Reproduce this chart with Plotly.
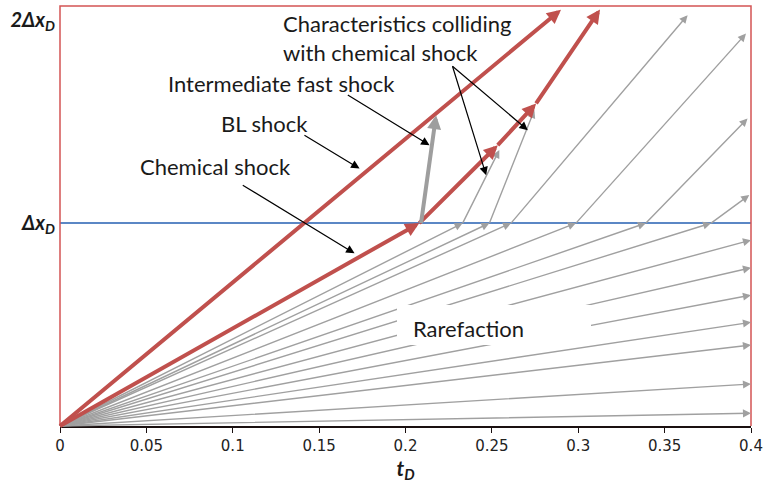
import plotly.graph_objects as go

# Rarefaction fan: rays leaving the origin
fan_to_dx_t = [0.2331, 0.2486, 0.2611, 0.2987, 0.3392, 0.3769]   # rays reaching x = Δx_D
fan_to_edge_y = [0.916, 0.780, 0.645, 0.511, 0.399, 0.207, 0.063]  # rays reaching t_D = 0.4
t_end = 0.4

# Characteristics continuing beyond x = Δx_D
cont_end_t = [0.2543, 0.2746, 0.3633, 0.3971, 0.3980, 0.3990]
cont_end_y = [1.360, 1.557, 2.025, 1.934, 1.516, 1.138]

# Chemical shock trajectory (piecewise)
chem_t = [0.0, 0.208, 0.2534, 0.2756, 0.3126]
chem_y = [0.0, 1.0, 1.384, 1.590, 2.053]

# Upper (fast) shock
fast_t = [0.0, 0.290]
fast_y = [0.0, 2.052]

# BL shock from the Δx_D crossing
bl_t = [0.209, 0.2177]
bl_y = [1.0, 1.532]

x_ticks = [0, 0.05, 0.1, 0.15, 0.2, 0.25, 0.3, 0.35, 0.4]
x_ticktext = ["0", "0.05", "0.1", "0.15", "0.2", "0.25", "0.3", "0.35", "0.4"]
y_ticks = [1, 2]
y_ticktext = ["<b><i>Δx<sub>D</sub></i></b>", "<b><i>2Δx<sub>D</sub></i></b>"]

RED = "#c0504d"
GRAY = "#a0a0a0"
BLUE = "#5b87c5"
FRAME = "#d45454"
TXT = "#1a1a1a"
LABEL_FONT = dict(family="Lato", size=22, color=TXT)


def arrow(t0, y0, t1, y1, color, width, size):
    return dict(x=t1, y=y1, ax=t0, ay=y0, xref="x", yref="y", axref="x", ayref="y",
                text="", showarrow=True, arrowhead=2, arrowsize=size, arrowwidth=width,
                arrowcolor=color, standoff=0, startstandoff=0, borderpad=0, borderwidth=0)


fig = go.Figure()

# Reference level x = Δx_D
fig.add_trace(go.Scatter(x=[0, t_end], y=[1, 1], mode="lines",
                         line=dict(color=BLUE, width=2), hoverinfo="skip", showlegend=False))

anns = []
# fan rays
for t in fan_to_dx_t:
    anns.append(arrow(0, 0, t, 1.0, GRAY, 1.4, 1.15))
for y in fan_to_edge_y:
    anns.append(arrow(0, 0, t_end, y, GRAY, 1.4, 1.15))
# continued characteristics
for t0, t1, y1 in zip(fan_to_dx_t, cont_end_t, cont_end_y):
    anns.append(arrow(t0, 1.0, t1, y1, GRAY, 1.4, 1.15))

# white box behind the fan label
anns.append(dict(x=0.2515, y=0.4975, xref="x", yref="y", text="&nbsp;", showarrow=False,
                 width=194, height=40, bgcolor="white", borderpad=0, borderwidth=0))
anns.append(dict(x=0.2033, y=0.483, xref="x", yref="y", text="Rarefaction", showarrow=False,
                 xanchor="left", yanchor="middle", font=LABEL_FONT))

# shocks
anns.append(arrow(fast_t[0], fast_y[0], fast_t[1], fast_y[1], RED, 4, 0.7))
for i in range(len(chem_t) - 1):
    anns.append(arrow(chem_t[i], chem_y[i], chem_t[i + 1], chem_y[i + 1], RED, 4, 0.7))
anns.append(arrow(bl_t[0], bl_y[0], bl_t[1], bl_y[1], "#9e9e9e", 4, 0.7))

# label pointers
anns.append(arrow(0.2272, 1.773, 0.2467, 1.236, "black", 1.2, 1.4))
anns.append(arrow(0.2272, 1.773, 0.2708, 1.458, "black", 1.2, 1.4))
anns.append(arrow(0.1666, 1.631, 0.2139, 1.384, "black", 1.2, 1.4))
anns.append(arrow(0.1415, 1.433, 0.1734, 1.269, "black", 1.2, 1.4))
anns.append(arrow(0.1058, 1.187, 0.1705, 0.851, "black", 1.2, 1.4))

# labels
for txt, tx, ty in [("Characteristics colliding", 0.128, 1.985),
                    ("with chemical shock", 0.128, 1.842),
                    ("Intermediate fast shock", 0.0615, 1.690),
                    ("BL shock", 0.0923, 1.493),
                    ("Chemical shock", 0.0450, 1.277)]:
    anns.append(dict(x=tx, y=ty, xref="x", yref="y", text=txt, showarrow=False,
                     xanchor="left", yanchor="middle", font=LABEL_FONT))

fig.update_layout(
    width=764, height=487,
    margin=dict(l=60, r=13, t=6, b=61, autoexpand=False),
    paper_bgcolor="white", plot_bgcolor="white",
    annotations=anns,
    shapes=[dict(type="path", xref="paper", yref="paper",
                 path="M0,0 L0,1 L1,1 L1,0", line=dict(color=FRAME, width=1.5),
                 layer="above")],
    xaxis=dict(range=[0, t_end], tickvals=x_ticks, ticktext=x_ticktext, automargin=False,
               showgrid=False, zeroline=False, showline=True, linecolor="#1a1010",
               linewidth=1.5, ticks="outside", ticklen=5, tickcolor="#1a1010",
               tickfont=dict(family="DejaVu Sans", size=15, color="#222222"),
               title=dict(text="<b><i>t<sub>D</sub></i></b>", standoff=6,
                          font=dict(family="Lato", size=21, color=TXT))),
    yaxis=dict(range=[0, 2.07], tickvals=y_ticks, ticktext=y_ticktext, automargin=False,
               showgrid=False, zeroline=False, showline=False, ticks="",
               ticklabelstandoff=4,
               tickfont=dict(family="Lato", size=20, color=TXT)),
)

fig.write_html("out.html")
